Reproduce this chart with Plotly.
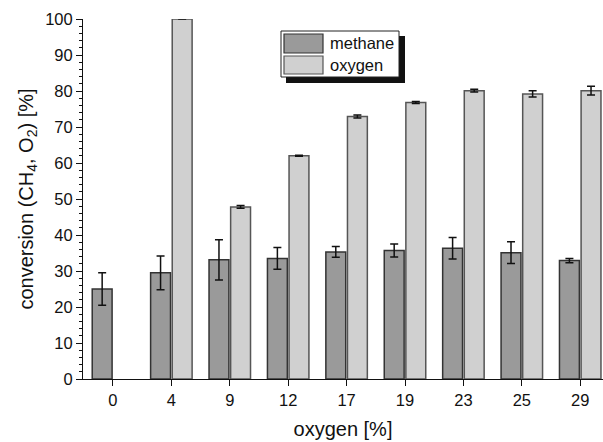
import plotly.graph_objects as go

categories = ["0", "4", "9", "12", "17", "19", "23", "25", "29"]
methane = [25.0, 29.5, 33.1, 33.5, 35.3, 35.7, 36.3, 35.1, 32.9]
methane_err = [4.5, 4.7, 5.6, 3.0, 1.5, 1.8, 3.0, 3.0, 0.6]
oxygen = [None, 100.0, 47.8, 62.0, 72.9, 76.8, 80.1, 79.2, 80.1]
oxygen_err = [0, 0, 0.4, 0.15, 0.4, 0.3, 0.4, 0.9, 1.2]
legend_names = ["methane", "oxygen"]

xpos = list(range(len(categories)))

FONT = "Liberation Sans, Arial, Helvetica, sans-serif"
C_METH = "#9a9a9a"
C_OXY = "#d0d0d0"

fig = go.Figure()
fig.add_trace(go.Bar(
    x=xpos, y=methane, name=legend_names[0],
    marker=dict(color=C_METH, line=dict(color="#333333", width=1.5)),
    error_y=dict(type="data", array=methane_err, visible=True,
                 color="#111111", thickness=1.5, width=4),
    showlegend=False,
))
fig.add_trace(go.Bar(
    x=xpos, y=oxygen, name=legend_names[1],
    marker=dict(color=C_OXY, line=dict(color="#555555", width=1.5)),
    error_y=dict(type="data", array=oxygen_err, visible=True,
                 color="#111111", thickness=1.5, width=4),
    showlegend=False,
))

L, T, W, H = 83, 19, 520, 360


def px(x):
    return (x - L) / W


def py(y):
    return (T + H - y) / H


shapes = []
# legend shadow + box
shapes.append(dict(type="rect", xref="paper", yref="paper",
                   x0=px(286), x1=px(405), y0=py(83), y1=py(36),
                   fillcolor="#111111", line=dict(width=0), layer="above"))
shapes.append(dict(type="rect", xref="paper", yref="paper",
                   x0=px(281), x1=px(399), y0=py(77), y1=py(31),
                   fillcolor="white", line=dict(color="#222222", width=1), layer="above"))
shapes.append(dict(type="rect", xref="paper", yref="paper",
                   x0=px(284), x1=px(323), y0=py(53), y1=py(34),
                   fillcolor=C_METH, line=dict(color="#333333", width=1.2), layer="above"))
shapes.append(dict(type="rect", xref="paper", yref="paper",
                   x0=px(284), x1=px(323), y0=py(74), y1=py(56),
                   fillcolor=C_OXY, line=dict(color="#555555", width=1.2), layer="above"))

annotations = [
    dict(xref="paper", yref="paper", x=px(328), y=py(43.5), text=legend_names[0],
         showarrow=False, xanchor="left", yanchor="middle",
         font=dict(family=FONT, size=16.5, color="#111111")),
    dict(xref="paper", yref="paper", x=px(328), y=py(65), text=legend_names[1],
         showarrow=False, xanchor="left", yanchor="middle",
         font=dict(family=FONT, size=16.5, color="#111111")),
]

fig.update_layout(
    width=603, height=442,
    margin=dict(l=L, r=603 - L - W, t=T, b=442 - T - H, pad=0),
    paper_bgcolor="white", plot_bgcolor="white",
    barmode="group", bargap=0.26, bargroupgap=0.08,
    font=dict(family=FONT, size=16.5, color="#111111"),
    shapes=shapes, annotations=annotations,
    showlegend=False,
)
fig.update_xaxes(
    range=[-0.513, 8.39], tickvals=xpos, ticktext=categories,
    showline=True, linecolor="#111111", linewidth=1,
    ticks="outside", ticklen=6, tickcolor="#111111", tickwidth=1,
    showgrid=False, zeroline=False,
    title=dict(text="oxygen [%]", font=dict(size=20), standoff=14),
    tickfont=dict(size=16.5),
)
fig.update_yaxes(
    range=[0, 100], dtick=10,
    showline=True, linecolor="#111111", linewidth=1,
    ticks="outside", ticklen=6, tickcolor="#111111", tickwidth=1,
    minor=dict(dtick=2, ticks="outside", ticklen=3, tickcolor="#111111", showgrid=False),
    showgrid=False, zeroline=False,
    title=dict(text="conversion (CH<sub>4</sub>, O<sub>2</sub>) [%]", font=dict(size=20), standoff=6),
    tickfont=dict(size=16.5),
)

fig.write_html("out.html")
